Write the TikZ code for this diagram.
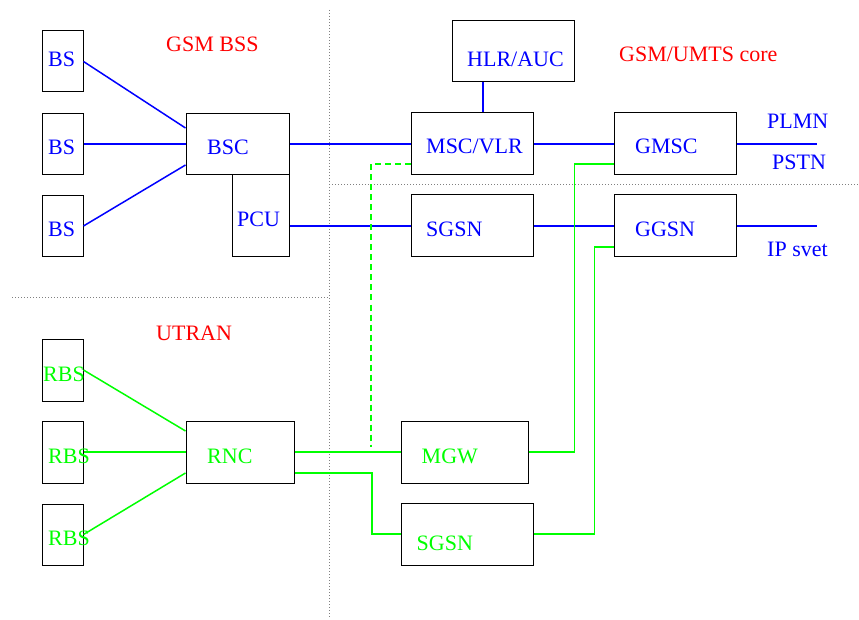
\documentclass[tikz,border=0pt]{standalone}
\usepackage{fontspec}
\setmainfont{Liberation Serif}
\begin{document}
\begin{tikzpicture}[x=1pt,y=-1pt,
		box/.style={shape=rectangle,draw=black,line width=1pt,inner sep=0pt},
		lbl/.style={anchor=base west,inner sep=0pt,font=\fontsize{22}{26}\selectfont},
		bl/.style={blue,line width=1.5pt},
		gl/.style={green,line width=1.5pt},
		sep/.style={draw=gray,line width=0.8pt,dash pattern=on 1pt off 2pt}]
	\useasboundingbox (0,0) rectangle (859,620);

	\draw[sep] (329,10) -- (329,617);
	\draw[sep] (12,297) -- (329,297);
	\draw[sep] (329,184) -- (858,184);

	\node[box,minimum width=41pt,minimum height=61pt] (bs1) at (62.5,61.5) {};
	\node[box,minimum width=41pt,minimum height=61pt] (bs2) at (62.5,144) {};
	\node[box,minimum width=41pt,minimum height=61pt] (bs3) at (62.5,226) {};
	\node[box,minimum width=103pt,minimum height=61pt] (bsc) at (237.5,144) {};
	\node[box,minimum width=57pt,minimum height=82pt] (pcu) at (260.5,216) {};
	\node[box,minimum width=122pt,minimum height=61pt] (hlr) at (513,51.5) {};
	\node[box,minimum width=122pt,minimum height=62pt] (msc) at (472,144) {};
	\node[box,minimum width=122pt,minimum height=62pt] (gmsc) at (675,144) {};
	\node[box,minimum width=122pt,minimum height=62pt] (sgsn) at (472,226) {};
	\node[box,minimum width=122pt,minimum height=62pt] (ggsn) at (675,226) {};

	\node[box,minimum width=41pt,minimum height=62pt] (rbs1) at (62.5,370) {};
	\node[box,minimum width=41pt,minimum height=62pt] (rbs2) at (62.5,452) {};
	\node[box,minimum width=41pt,minimum height=61pt] (rbs3) at (62.5,534.5) {};
	\node[box,minimum width=108pt,minimum height=62pt] (rnc) at (240,452) {};
	\node[box,minimum width=127pt,minimum height=62pt] (mgw) at (464.5,452) {};
	\node[box,minimum width=132pt,minimum height=62pt] (sgsn2) at (467,534) {};

	\coordinate (pstnend) at (817,144);
	\coordinate (ipend) at (817,226);
	\coordinate (iu) at (371,447);

	\node[lbl,red] (bss) at (166,52) {GSM BSS};
	\node[lbl,red] (core) at (619,62) {GSM/UMTS core};
	\node[lbl,red] (utran) at (156,340) {UTRAN};

	\node[lbl,blue] (bs1t) at (48,67) {BS};
	\node[lbl,blue] (bs2t) at (48,155) {BS};
	\node[lbl,blue] (bs3t) at (48,237) {BS};
	\node[lbl,blue] (bsct) at (207,155) {BSC};
	\node[lbl,blue] (pcut) at (237,226.5) {PCU};
	\node[lbl,blue] (hlrt) at (467,67) {HLR/AUC};
	\node[lbl,blue] (msct) at (426,154) {MSC/VLR};
	\node[lbl,blue] (gmsct) at (635,154) {GMSC};
	\node[lbl,blue] (plmn) at (767,129) {PLMN};
	\node[lbl,blue] (pstn) at (772,170) {PSTN};
	\node[lbl,blue] (sgsnt) at (426,237) {SGSN};
	\node[lbl,blue] (ggsnt) at (635,237) {GGSN};
	\node[lbl,blue] (ipt) at (767,257) {IP svet};

	\node[lbl,green] (rbs1t) at (43,381.5) {RBS};
	\node[lbl,green] (rbs2t) at (48,463) {RBS};
	\node[lbl,green] (rbs3t) at (48,545.5) {RBS};
	\node[lbl,green] (rnct) at (207,463) {RNC};
	\node[lbl,green] (mgwt) at (421.5,463) {MGW};
	\node[lbl,green] (sgsn2t) at (416.5,550.5) {SGSN};

	\path [bl] (bs1.east) edge ([yshift=16pt]bsc.west);
	\path [bl] (bs2.east) edge (bsc.west);
	\path [bl] (bs3.east) edge ([yshift=-21pt]bsc.west);
	\path [bl] (bsc.east) edge (msc.west);
	\path [bl] (sgsn.west -| pcu.east) edge (sgsn.west);
	\path [bl] ([xshift=-30pt]hlr.south) edge ([xshift=-30pt]hlr.south |- msc.north);
	\path [bl] (msc.east) edge (gmsc.west);
	\path [bl] (gmsc.east) edge (pstnend);
	\path [bl] (sgsn.east) edge (ggsn.west);
	\path [bl] (ggsn.east) edge (ipend);

	\path [gl] (rbs1.east) edge ([yshift=21pt]rnc.west);
	\path [gl] (rbs2.east) edge (rnc.west);
	\path [gl] (rbs3.east) edge ([yshift=-21pt]rnc.west);
	\path [gl] (rnc.east) edge (mgw.west);
	\draw [gl] ([yshift=-21pt]rnc.east) -- ++(77.5,0) |- (sgsn2.west);
	\draw [gl] (mgw.east) -- ++(46,0) |- ([yshift=-20pt]gmsc.west);
	\draw [gl] (sgsn2.east) -- ++(61,0) |- ([yshift=-21pt]ggsn.west);
	\draw [gl,dash pattern=on 6pt off 4pt] ([yshift=-20pt]msc.west) -| (iu);

\end{tikzpicture}
\end{document}
